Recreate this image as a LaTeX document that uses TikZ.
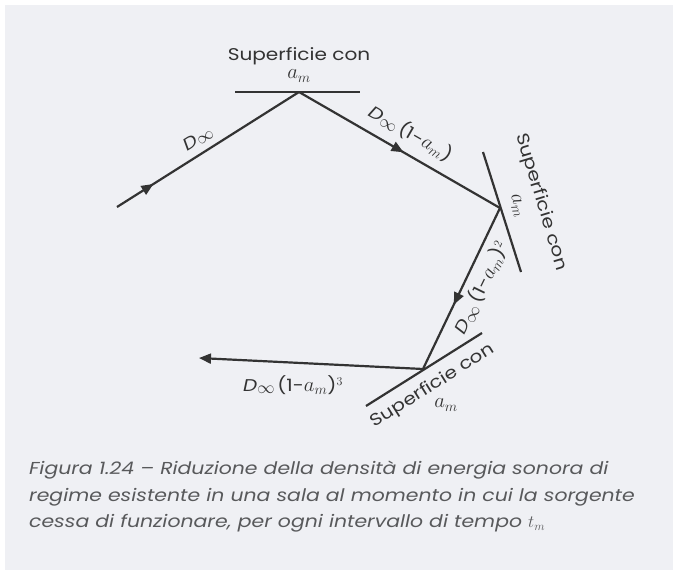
\documentclass[tikz,border=0pt]{standalone}
\usepackage{fontspec}
\setmainfont{Poppins}[FakeStretch=1.18]
\usetikzlibrary{arrows.meta,decorations.markings}
\definecolor{fondo}{HTML}{EFF0F4}
\definecolor{raggio}{HTML}{333333}
\definecolor{didascalia}{HTML}{58595B}
\newcommand{\amis}{{\fontsize{21}{21}\selectfont$a_m$}}
\newcommand{\dinf}{\textit{D}{\fontsize{18}{18}\selectfont\raisebox{-2.5pt}{$\infty$}}}

\begin{document}
\begin{tikzpicture}[x=1pt,y=-1pt,>={Triangle[length=12pt,width=10pt]},
		ray/.style={draw=raggio,line width=2.2pt},
		wall/.style={draw=raggio,line width=2.2pt},
		midarrow/.style={postaction={decorate},
			decoration={markings,mark=at position #1 with {\arrow{>}}}},
		lbl/.style={text=raggio,inner sep=0pt,font=\fontsize{17}{20}\selectfont}]
		\fill[white] (0,0) rectangle (673,570);
		\fill[fondo] (5,5) rectangle (673,570);
		\useasboundingbox (0,0) rectangle (673,570);
		% punti di riflessione
		\coordinate (src) at (117,207);
		\coordinate (r1) at (299,92);
		\coordinate (r2) at (500,208);
		\coordinate (r3) at (423,369);
		\coordinate (dst) at (199,358);
		\coordinate (w1a) at (235,92);
		\coordinate (w1b) at (360,92);
		\coordinate (w2a) at (483,152);
		\coordinate (w2b) at (521,272);
		\coordinate (w3a) at (366,406);
		\coordinate (w3b) at (482,333);
		\draw[wall] (w1a) -- (w1b);
		\draw[wall] (w2a) -- (w2b);
		\draw[wall] (w3a) -- (w3b);
		\draw[ray,midarrow=0.2] (src) -- (r1);
		\draw[ray,midarrow=0.52] (r1) -- (r2);
		\draw[ray,midarrow=0.6] (r2) -- (r3);
		\draw[ray,->] (r3) -- (dst);
		% etichette
		\node[lbl] (s1) at (299,56) {Superficie con};
		\node[lbl] (a1) at (299,76) {\amis};
		\node[lbl,rotate=-73] (s2) at (541,202) {Superficie con};
		\node[lbl,rotate=-73] (a2) at (517,206) {\amis};
		\node[lbl,rotate=32] (s3) at (433,386) {Superficie con};
		\node[lbl] (a3) at (446,405) {\amis};
		\node[lbl,rotate=32] (d0) at (198,139) {\dinf};
		\node[lbl,rotate=-30] (d1) at (411,133) {\dinf\,(1-\amis)};
		\node[lbl,rotate=64] (d2) at (481,288) {\dinf\,(1-\amis)$^2$};
		\node[lbl] (d3) at (293,385) {\dinf\,(1-\amis)$^3$};
		\node[anchor=north west,align=left,inner sep=0pt,text=didascalia,
			font=\fontsize{17.3}{26.5}\selectfont\itshape] (cap) at (29,461)
			{Figura 1.24 – Riduzione della densità di energia sonora di\\
			regime esistente in una sala al momento in cui la sorgente\\
			cessa di funzionare, per ogni intervallo di tempo $t_m$};
\end{tikzpicture}
\end{document}
